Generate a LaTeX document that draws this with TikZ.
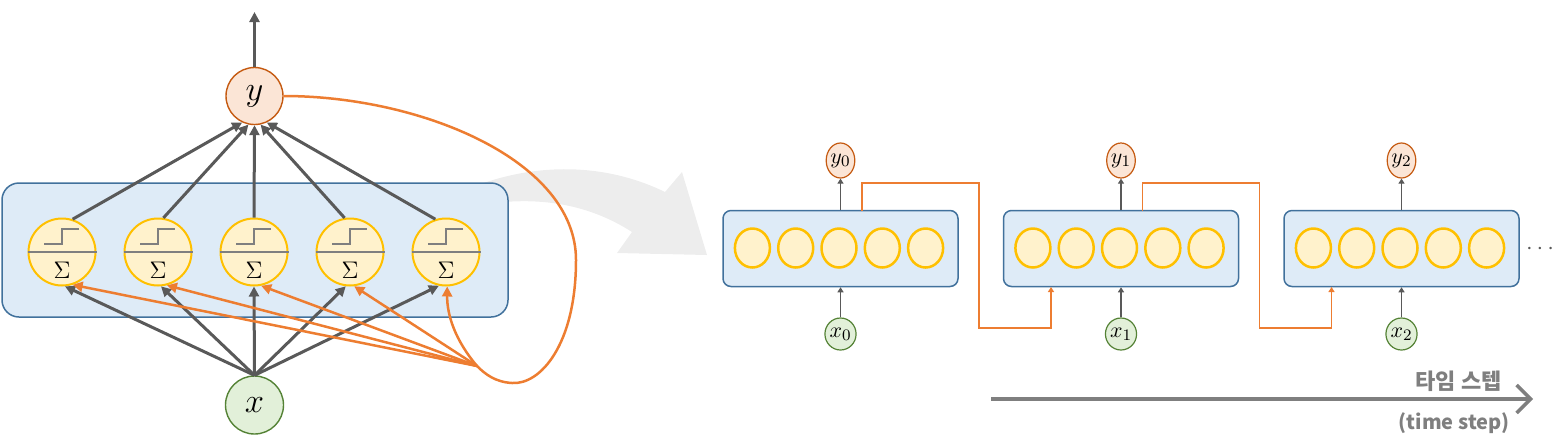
\documentclass[tikz,border=0pt]{standalone}
\usepackage{fontspec}
\newfontfamily\krfont{Noto Sans CJK KR}
\usepackage{tikz}
\usetikzlibrary{positioning,shapes.geometric,arrows.meta,calc}
\definecolor{boxfill}{HTML}{DEEBF7}
\definecolor{boxline}{HTML}{41719C}
\definecolor{unitfill}{HTML}{FFF2CC}
\definecolor{unitline}{HTML}{FFC000}
\definecolor{outfill}{HTML}{FBE5D6}
\definecolor{outline}{HTML}{C55A11}
\definecolor{infill}{HTML}{E2F0D9}
\definecolor{inline}{HTML}{548235}
\definecolor{wiregray}{HTML}{595959}
\definecolor{loopor}{HTML}{ED7D31}
\definecolor{bandgray}{HTML}{EDEDED}
\definecolor{timegray}{HTML}{7F7F7F}

\begin{document}
\begin{tikzpicture}[x=0.5pt,y=-0.5pt]
\tikzstyle{every node}+=[inner sep=0pt]
\tikzstyle{layer}=[draw=boxline,fill=boxfill,line width=0.75pt]
\tikzstyle{neuron}=[circle,draw=unitline,fill=unitfill,line width=1pt,minimum size=33.5pt]
\tikzstyle{cell}=[ellipse,draw=unitline,fill=unitfill,line width=1.25pt,minimum width=17.5pt,minimum height=19.5pt]
\tikzstyle{ynode}=[circle,draw=outline,fill=outfill,line width=0.7pt,minimum size=28.5pt,font=\fontsize{19}{19}\selectfont]
\tikzstyle{xnode}=[circle,draw=inline,fill=infill,line width=0.7pt,minimum size=29pt,font=\fontsize{19}{19}\selectfont]
\tikzstyle{ysmall}=[ellipse,draw=outline,fill=outfill,line width=0.6pt,minimum width=14pt,minimum height=17.5pt,font=\fontsize{11}{11}\selectfont]
\tikzstyle{xsmall}=[ellipse,draw=inline,fill=infill,line width=0.6pt,minimum width=14pt,minimum height=16pt,font=\fontsize{11}{11}\selectfont]
\tikzstyle{wire}=[draw=wiregray,line width=1.5pt,-{Triangle[length=5pt,width=5pt]}]
\tikzstyle{feed}=[draw=loopor,line width=1.25pt,-{Triangle[length=5pt,width=5pt]}]
\tikzstyle{thinwire}=[draw=wiregray,line width=0.6pt,-{Triangle[length=2.5pt,width=3pt]}]
\tikzstyle{loopline}=[draw=loopor,line width=0.8pt,-{Triangle[length=2.5pt,width=3pt]}]
\tikzstyle{stepline}=[draw=timegray,line width=0.8pt]
\tikzstyle{timetext}=[text=timegray,font=\krfont\bfseries\fontsize{10}{10}\selectfont]
\useasboundingbox (0,0) rectangle (1552,446);

\fill[bandgray] (470,188) .. controls (540,160) and (610,165) .. (665,192) -- (682,172) -- (707,255) -- (617,253) -- (632,232) .. controls (590,205) and (540,195) .. (480,205) -- cycle;

\node[layer,rounded corners=8.5pt,minimum width=253pt,minimum height=67pt] (hidden) at (255,250) {};
\foreach \i in {1,...,5}{
  \node[neuron] (n\i) at (62+96*\i-96,252) {};
  \draw[stepline] (n\i.west) -- (n\i.east);
  \draw[stepline] (n\i.center) ++(-18,-8) -- ++(18,0) -- ++(0,-15) -- ++(17,0);
  \node[font=\fontsize{13}{13}\selectfont] (s\i) at ($(n\i.center)+(0,18)$) {$\Sigma$};
}
\node[ynode] (y) at (254.5,96) {$y$};
\node[xnode] (x) at (254.5,405) {$x$};
\coordinate (out) at (254.5,12);
\coordinate (hub) at (477,366);

\draw[wire] (y.north) -- (out);
\foreach \i/\a/\b in {1/72/245,2/81/258,3/90/270,4/99/282,5/108/295}
  \draw[wire] (n\i.\a) -- (y.\b);
\foreach \i/\c in {1/275,2/275,3/270,4/263,5/258}
  \draw[wire] (x.north) -- (n\i.\c);
\foreach \i/\d in {1/288,2/285,3/282,4/277}
  \draw[feed] (hub) -- (n\i.\d);
\draw[feed] (hub) .. controls (455,340) and (447,315) .. (n5.272);
\draw[draw=loopor,line width=1.25pt] (y.east) .. controls (420,96) and (576,160) .. (576,260) .. controls (576,345) and (540,385) .. (512,383) .. controls (495,382) and (485,374) .. (hub);

\foreach \i [evaluate=\i as \dx using 280.5*\i] in {0,1,2}{
  \node[layer,rounded corners=4pt,minimum width=117.5pt,minimum height=38pt] (box\i) at (840.5+\dx,248.5) {};
  \foreach \j in {1,...,5}
    \node[cell] (c\i\j) at (839+43.3*\j-129.9+\dx,248) {};
  \node[ysmall] (y\i) at (840.5+\dx,160.5) {$y_\i$};
  \node[xsmall] (x\i) at (840.5+\dx,334) {$x_\i$};
  \draw[thinwire] (box\i.north) -- (y\i.south);
  \draw[thinwire] (x\i.north) -- (box\i.south);
}
\foreach \i [evaluate=\i as \dx using 280.5*\i] in {0,1}{
  \coordinate (o\i) at (862+\dx,211);
  \coordinate (t\i) at (979+\dx,183);
  \coordinate (b\i) at (1051+\dx,328);
  \coordinate (in\i) at (1051+\dx,287);
  \draw[loopline] (o\i) |- (t\i) |- (b\i) -- (in\i);
}
\node[text=wiregray,font=\fontsize{12}{12}\selectfont] (more) at (1540,249) {$\cdots$};

\coordinate (ts) at (991,399);
\coordinate (te) at (1533,399);
\draw[draw=timegray,line width=1.75pt,-{Straight Barb[length=7pt,width=14pt]}] (ts) -- (te);
\node[timetext,anchor=east,font=\krfont\bfseries\fontsize{11}{11}\selectfont] (tkr) at (1502,381) {타임 스텝};
\node[timetext,anchor=east] (ten) at (1510,423) {(time step)};
\end{tikzpicture}
\end{document}
